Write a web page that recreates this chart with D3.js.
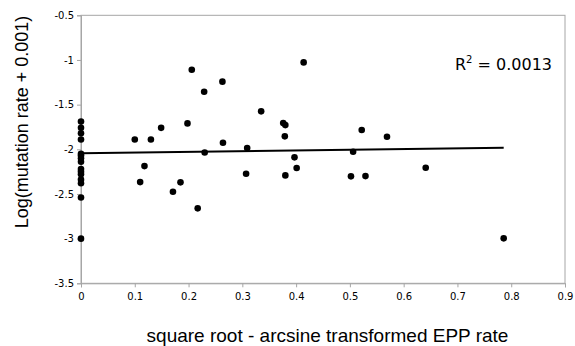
<!DOCTYPE html>
<html>
<head>
<meta charset="utf-8">
<script src="https://cdn.jsdelivr.net/npm/d3@7"></script>
<style>
  body { margin: 0; background: #fff; }
  svg { display: block; }
</style>
</head>
<body>
<div id="chart"></div>
<script>
// EPP rate (sqrt-arcsine transformed) vs log mutation rate
const xValues = [
  0, 0, 0, 0, 0, 0, 0, 0, 0, 0, 0, 0, 0, 0, 0,
  0.100, 0.130, 0.149, 0.198, 0.206, 0.229, 0.230, 0.263, 0.264, 0.309,
  0.335, 0.376, 0.380, 0.379, 0.397, 0.414, 0.522, 0.569, 0.506, 0.110,
  0.118, 0.171, 0.185, 0.217, 0.307, 0.380, 0.401, 0.502, 0.529, 0.641,
  0.786
];
const yValues = [
  -1.69, -1.76, -1.82, -1.89, -2.05, -2.07, -2.10, -2.14, -2.22, -2.25, -2.28, -2.34, -2.38, -2.54, -3.0,
  -1.89, -1.89, -1.76, -1.71, -1.11, -1.355, -2.035, -1.243, -1.927, -1.986,
  -1.575, -1.706, -1.729, -1.855, -2.09, -1.027, -1.784, -1.859, -2.027, -2.367,
  -2.188, -2.475, -2.370, -2.661, -2.274, -2.292, -2.21, -2.303, -2.30, -2.207,
  -2.997
];
// linear trend line endpoints
const trendX = [0, 0.786];
const trendY = [-2.045, -1.983];
const xTicks = [0, 0.1, 0.2, 0.3, 0.4, 0.5, 0.6, 0.7, 0.8, 0.9];
const yTicks = [-0.5, -1, -1.5, -2, -2.5, -3, -3.5];
const rSquared = "0.0013";

const width = 575, height = 346;
const margin = { top: 15.3, right: 10, bottom: 62.7, left: 81 };

const svg = d3.select('#chart')
  .append('svg')
  .attr('width', width)
  .attr('height', height);

const x = d3.scaleLinear()
  .domain([0, 0.9])
  .range([margin.left, width - margin.right]);

const y = d3.scaleLinear()
  .domain([-3.5, -0.5])
  .range([height - margin.bottom, margin.top]);

// plot frame
svg.append('rect')
  .attr('x', x(0))
  .attr('y', y(-0.5))
  .attr('width', x(0.9) - x(0))
  .attr('height', y(-3.5) - y(-0.5))
  .attr('fill', 'none')
  .attr('stroke', '#a6a6a6')
  .attr('stroke-width', 1);

const tickFmt = d => (d === 0 ? '0' : String(d));

svg.append('g')
  .attr('transform', `translate(0, ${y(-3.5)})`)
  .call(d3.axisBottom(x).tickValues(xTicks).tickFormat(tickFmt).tickSize(4).tickPadding(6))
  .call(g => g.select('.domain').attr('stroke', '#a6a6a6'))
  .call(g => g.selectAll('.tick line').attr('stroke', '#a6a6a6'))
  .call(g => g.selectAll('text')
    .attr('font-family', 'DejaVu Sans, Verdana, sans-serif')
    .attr('font-size', '10px')
    .attr('fill', '#000'));

svg.append('g')
  .attr('transform', `translate(${x(0)}, 0)`)
  .call(d3.axisLeft(y).tickValues(yTicks).tickFormat(tickFmt).tickSize(4).tickPadding(3))
  .call(g => g.select('.domain').attr('stroke', '#a6a6a6'))
  .call(g => g.selectAll('.tick line').attr('stroke', '#a6a6a6'))
  .call(g => g.selectAll('text')
    .attr('font-family', 'DejaVu Sans, Verdana, sans-serif')
    .attr('font-size', '10px')
    .attr('fill', '#000'));

// trend line
svg.append('line')
  .attr('x1', x(trendX[0]))
  .attr('y1', y(trendY[0]))
  .attr('x2', x(trendX[1]))
  .attr('y2', y(trendY[1]))
  .attr('stroke', '#000')
  .attr('stroke-width', 2);

// points
svg.append('g')
  .selectAll('circle')
  .data(xValues)
  .join('circle')
  .attr('cx', d => x(d))
  .attr('cy', (d, i) => y(yValues[i]))
  .attr('r', 3.3)
  .attr('fill', '#000');

// R squared label
const rLabel = svg.append('text')
  .attr('x', x(0.9) - 13)
  .attr('y', 70)
  .attr('text-anchor', 'end')
  .attr('font-family', 'DejaVu Sans, Verdana, sans-serif')
  .attr('font-size', '16px')
  .attr('fill', '#000');
rLabel.append('tspan').text('R');
rLabel.append('tspan').attr('font-size', '10px').attr('dy', -7).text('2');
rLabel.append('tspan').attr('dy', 7).text(' = ' + rSquared);

// axis titles
svg.append('text')
  .attr('transform', `translate(28, 122) rotate(-90)`)
  .attr('text-anchor', 'middle')
  .attr('font-family', 'Liberation Sans, Arial, sans-serif')
  .attr('font-size', '18px')
  .attr('fill', '#000')
  .text('Log(mutation rate + 0.001)');

svg.append('text')
  .attr('x', 327.5)
  .attr('y', 342)
  .attr('text-anchor', 'middle')
  .attr('font-family', 'Liberation Sans, Arial, sans-serif')
  .attr('font-size', '19px')
  .attr('fill', '#000')
  .text('square root - arcsine transformed EPP rate');
</script>
</body>
</html>
